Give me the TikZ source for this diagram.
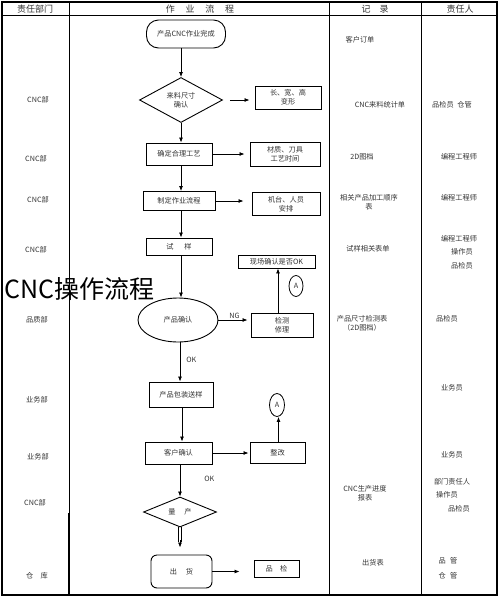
\documentclass[tikz,border=0pt]{standalone}
\usepackage{fontspec}
\setmainfont{Noto Sans CJK SC}
\usetikzlibrary{arrows.meta,shapes.geometric}
\begin{document}
\begin{tikzpicture}[x=1pt,y=-1pt,
  txt/.style={font=\fontsize{7.2}{9}\selectfont, inner sep=0pt, align=center, text=black!80},
  hdr/.style={font=\fontsize{9}{11}\selectfont, inner sep=0pt, text=black!80},
  fbox/.style={draw, line width=0.9pt, inner sep=0pt, align=center, font=\fontsize{7.2}{9}\selectfont, text=black!80},
  arr/.style={-{Latex[length=5pt,width=4pt]}, line width=0.8pt},
  grid/.style={line width=0.8pt}
]
\useasboundingbox (0,0) rectangle (500,598);
% table
\draw[line width=1.6pt] (2,2) rectangle (497,595);
\draw[grid] (2,15) -- (497,15);
\draw[grid] (69,2) -- (69,513);
\draw[line width=1.4pt] (69,513) -- (69,595);
\draw[grid] (329,2) -- (329,595);
\draw[grid] (421,2) -- (421,595);
% headers
\node[hdr] (h1) at (35,9) {责任部门};
\node[hdr] (h2) at (200,9) {作\hspace{1.2em}业\hspace{1.2em}流\hspace{1.2em}程};
\node[hdr] (h3) at (375,9) {记\hspace{1em}录};
\node[hdr] (h4) at (460,9) {责任人};
% department column
\node[txt] (d1) at (38,100) {CNC部};
\node[txt] (d2) at (36,159) {CNC部};
\node[txt] (d3) at (38,200) {CNC部};
\node[txt] (d4) at (36,250) {CNC部};
\node[txt] (d5) at (37,320) {品质部};
\node[txt] (d6) at (37,400) {业务部};
\node[txt] (d7) at (38,457) {业务部};
\node[txt] (d8) at (35,503) {CNC部};
\node[txt] (d9) at (37,576) {仓\hspace{1em}库};
% flow
\node[fbox, rounded corners=12pt, minimum width=79pt, minimum height=28pt] (s) at (186,34) {产品CNC作业完成};
\node[fbox, diamond, minimum width=83pt, minimum height=45pt] (q1) at (181,100) {来料尺寸\\确认};
\node[fbox, minimum width=66pt, minimum height=23pt] (b1) at (288,97.5) {长、宽、高\\变形};
\node[fbox, minimum width=66pt, minimum height=22pt] (p1) at (179,154) {确定合理工艺};
\node[fbox, minimum width=70pt, minimum height=24pt] (b2) at (285,154) {材质、刀具\\工艺时间};
\node[fbox, minimum width=72pt, minimum height=19pt] (p2) at (179,201) {制定作业流程};
\node[fbox, minimum width=68pt, minimum height=23pt] (b3) at (286,204) {机台、人员\\安排};
\node[fbox, minimum width=66pt, minimum height=17pt] (p3) at (179,246.5) {试\hspace{1.5em}样};
\node[fbox, ellipse, minimum width=80pt, minimum height=44pt] (e1) at (178,320) {产品确认};
\node[fbox, minimum width=62pt, minimum height=24pt] (jc) at (282,325) {检测\\修理};
\node[fbox, minimum width=77pt, minimum height=13pt] (xc) at (276.5,261.5) {现场确认是否OK};
\node[fbox, ellipse, minimum width=14pt, minimum height=21pt, line width=0.8pt] (a1) at (296,286) {A};
\node[fbox, minimum width=64pt, minimum height=25pt] (p4) at (181,394.5) {产品包装送样};
\node[fbox, minimum width=67pt, minimum height=22pt] (p5) at (178.5,453) {客户确认};
\node[fbox, minimum width=55pt, minimum height=21pt] (zg) at (277.5,452.5) {整改};
\node[fbox, ellipse, minimum width=15pt, minimum height=23pt, line width=0.8pt] (a2) at (277,405) {A};
\node[fbox, diamond, minimum width=73pt, minimum height=30pt] (q2) at (180,512) {量\hspace{1.2em}产};
\node[fbox, rounded corners=6pt, minimum width=61pt, minimum height=33pt] (ch) at (181.5,571.5) {出\hspace{1.2em}货};
\node[fbox, minimum width=45pt, minimum height=17pt] (pj) at (276.5,568.5) {品\hspace{1em}检};
\coordinate (qtail) at ([yshift=-15pt]q2.south);
% connectors
\draw[arr] ([xshift=-5pt]s.south) -- ([xshift=-5pt]s.south |- q1.north);
\draw[arr, shorten <=7pt, shorten >=5pt] (q1.east) -- (q1.east -| b1.west);
\draw[arr] (q1.south) -- (q1.south |- p1.north);
\draw[arr, shorten >=5pt] (p1.east) -- (p1.east -| b2.west);
\draw[arr] ([xshift=2pt]p1.south) -- ([xshift=2pt]p1.south |- p2.north);
\draw[arr, shorten >=8pt] (p2.east) -- (p2.east -| b3.west);
\draw[arr] ([xshift=2pt]p2.south) -- ([xshift=2pt]p2.south |- p3.north);
\draw[arr] ([xshift=2pt]p3.south) -- ([xshift=2pt]p3.south |- e1.north);
\draw[arr, shorten >=3pt] (e1.east) -- node[txt, above=1pt] (ng) {NG} (e1.east -| jc.west);
\draw[arr] ([xshift=-4pt]jc.north) -- ([xshift=-4pt]jc.north |- xc.south);
\draw[arr] ([xshift=2pt]e1.south) -- node[txt, right=6pt, pos=0.45] (ok1) {OK} ([xshift=2pt]e1.south |- p4.north);
\draw[arr] ([xshift=1pt]p4.south) -- ([xshift=1pt]p4.south |- p5.north);
\draw[arr, shorten >=1pt] (p5.east) -- (p5.east -| zg.west);
\draw[arr] ([xshift=1pt]zg.north) -- ([xshift=1pt]zg.north |- a2.south);
\draw[arr] ([xshift=1.5pt]p5.south) -- node[txt, right=24pt, pos=0.45] (ok2) {OK} ([xshift=1.5pt]p5.south |- q2.north);
\draw[line width=0.7pt] ([xshift=-1.3pt]q2.south) -- ([xshift=-1.3pt]qtail);
\draw[line width=0.7pt] ([xshift=1.3pt]q2.south) -- ([xshift=1.3pt]qtail);
\draw[arr] ([yshift=2pt]qtail) -- ([yshift=7pt]qtail |- ch.north);
\draw[arr, shorten >=14pt] (ch.east) -- (ch.east -| pj.west);
% big overlay title
\node[font=\fontsize{25}{28}\selectfont, inner sep=0pt, anchor=west] (title) at (4,289) {CNC操作流程};
% records column
\node[txt] (r1) at (360,40) {客户订单};
\node[txt] (r2) at (380,105) {CNC来料统计单};
\node[txt] (r3) at (362,157) {2D图档};
\node[txt] (r4) at (369,202) {相关产品加工顺序\\表};
\node[txt] (r5) at (368,249) {试样相关表单};
\node[txt] (r6) at (362,323.5) {产品尺寸检测表\\（2D图档）};
\node[txt] (r7) at (365,493.5) {CNC生产进度\\报表};
\node[txt] (r8) at (373,563) {出货表};
% person column
\node[txt] (m1) at (452,105) {品检员\hspace{0.5em}仓管};
\node[txt] (m2) at (459,157) {编程工程师};
\node[txt] (m3) at (459,198) {编程工程师};
\node[txt] (m4) at (459,239) {编程工程师};
\node[txt] (m5) at (462,252) {操作员};
\node[txt] (m6) at (462,266) {品检员};
\node[txt] (m7) at (447,319) {品检员};
\node[txt] (m8) at (452,388) {业务员};
\node[txt] (m9) at (452,455) {业务员};
\node[txt] (m10) at (452,482) {部门责任人};
\node[txt] (m11) at (447,495) {操作员};
\node[txt] (m12) at (459,509) {品检员};
\node[txt] (m13) at (448,561) {品\hspace{0.6em}管};
\node[txt] (m14) at (448,576) {仓\hspace{0.6em}管};
\end{tikzpicture}
\end{document}
